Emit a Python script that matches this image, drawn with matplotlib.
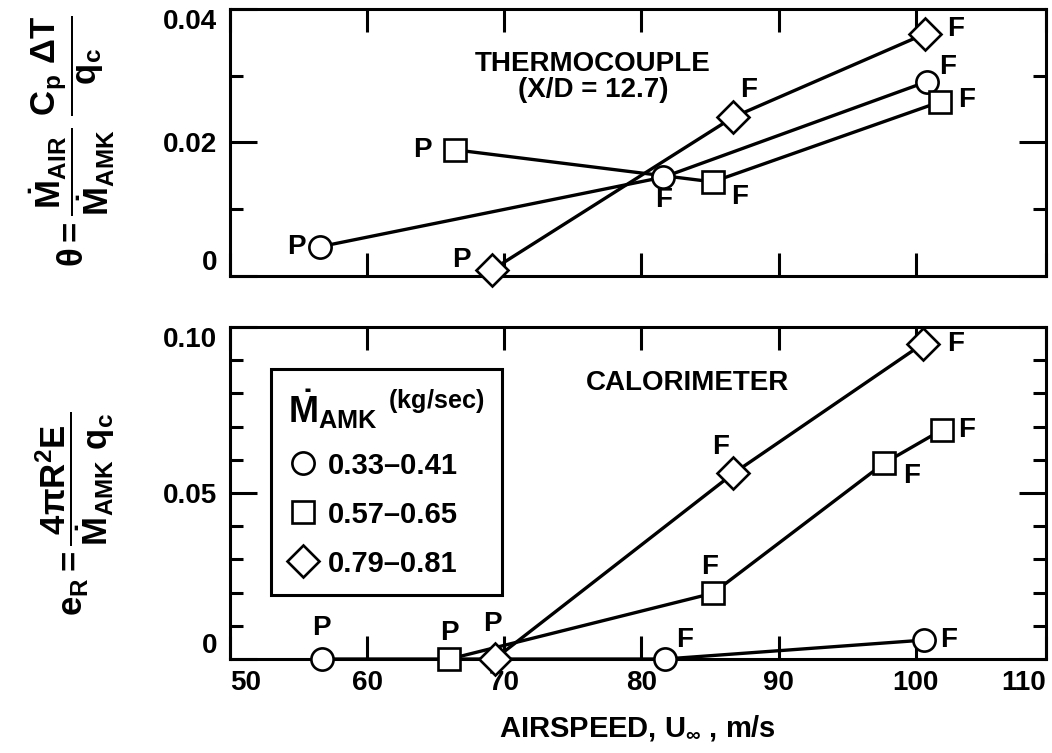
import matplotlib
matplotlib.use("Agg")
import matplotlib.pyplot as plt
from matplotlib.ticker import MultipleLocator

plt.rcParams['font.family'] = ['Liberation Sans', 'DejaVu Sans']
plt.rcParams['font.weight'] = 'bold'
plt.rcParams['mathtext.fontset'] = 'custom'
plt.rcParams['mathtext.rm'] = 'Liberation Sans:bold'
plt.rcParams['mathtext.it'] = 'Liberation Sans:bold'
plt.rcParams['mathtext.bf'] = 'Liberation Sans:bold'
plt.rcParams['mathtext.sf'] = 'Liberation Sans:bold'
plt.rcParams['mathtext.default'] = 'rm'
plt.rcParams['mathtext.fallback'] = 'stixsans'

# airspeed axis (frame ends just short of 110)
x_ticks = [50, 60, 70, 80, 90, 100, 109.5]
x_ticklabels = ['50', '60', '70', '80', '90', '100', '110']

# mass flow groups
group_labels = ['0.33\u20130.41', '0.57\u20130.65', '0.79\u20130.81']

# thermocouple (X/D = 12.7)
tc_circle_x = [56.6, 81.6, 100.8]
tc_circle_y = [0.0044, 0.0148, 0.0291]
tc_circle_tag = ['P', 'F', 'F']
tc_square_x = [66.4, 85.2, 101.8]
tc_square_y = [0.0189, 0.0141, 0.0261]
tc_square_tag = ['P', 'F', 'F']
tc_diamond_x = [69.1, 86.7, 100.7]
tc_diamond_y = [0.0009, 0.0238, 0.0363]
tc_diamond_tag = ['P', 'F', 'F']
tc_yticks = [0, 0.02, 0.04]
tc_yticklabels = ['0', '0.02', '0.04']

# calorimeter
cal_circle_x = [56.7, 81.7, 100.6]
cal_circle_y = [0.0, 0.0, 0.0057]
cal_circle_tag = ['P', 'F', 'F']
cal_square_x = [66.0, 85.2, 97.7, 101.9]
cal_square_y = [0.0, 0.0198, 0.059, 0.069]
cal_square_tag = ['P', 'F', 'F', 'F']
cal_diamond_x = [69.3, 86.7, 100.5]
cal_diamond_y = [0.0, 0.0559, 0.0949]
cal_diamond_tag = ['P', 'F', 'F']
cal_yticks = [0, 0.05, 0.10]
cal_yticklabels = ['0', '0.05', '0.10']

# where the P/F letters sit relative to each symbol (pixels, right/down)
tc_offsets = [
    [(-24, 0), (0, 23), (21, -15)],
    [(-32, 0), (27, 15), (26, -2)],
    [(-30, -10), (15, -27), (30, -5)],
]
cal_offsets = [
    [(0, -31), (20, -19), (25, 0)],
    [(0, -26), (-3, -26), (27, 13), (25, 0)],
    [(-2, -35), (-13, -26), (33, 0)],
]

markers = ['o', 's', 'D']
LW = 2.4
FS = 20


def draw_series(ax, xs, ys, tags, offs, marker, label):
    ax.plot(xs, ys, '-', color='k', lw=LW, clip_on=False, zorder=2)
    ax.plot(xs, ys, ls='none', marker=marker, ms=16, mfc='white', mec='k',
            mew=1.9, clip_on=False, zorder=3, label=label)
    for x, y, t, (dx, dy) in zip(xs, ys, tags, offs):
        ax.annotate(t, (x, y), xytext=(dx * 0.72, -dy * 0.72),
                    textcoords='offset points', ha='center', va='center',
                    fontsize=FS, fontweight='bold', zorder=4)


def style_axes(ax, yticks, yticklabels, ymajor_len, yminor):
    ax.set_xlim(50, 109.5)
    ax.set_ylim(yticks[0], yticks[-1])
    for s in ax.spines.values():
        s.set_linewidth(2.2)
    ax.set_xticks(x_ticks)
    ax.set_yticks(yticks)
    ax.set_yticklabels(yticklabels)
    ax.yaxis.set_minor_locator(MultipleLocator(yminor))
    ax.tick_params(axis='both', which='both', direction='in', top=True,
                   right=True, width=2.2, labelsize=FS)
    ax.tick_params(axis='x', which='major', length=16.5, pad=8)
    ax.tick_params(axis='y', which='major', length=ymajor_len, pad=9)
    ax.tick_params(axis='y', which='minor', length=9.5)
    labs = ax.get_yticklabels()
    labs[0].set_verticalalignment('bottom')
    labs[-1].set_verticalalignment('top')


fig = plt.figure(figsize=(10.52, 7.53), dpi=100)
ax1 = fig.add_axes([0.2186, 0.6335, 0.7757, 0.3546])
ax2 = fig.add_axes([0.2186, 0.1248, 0.7757, 0.4409])

tc = [(tc_circle_x, tc_circle_y, tc_circle_tag),
      (tc_square_x, tc_square_y, tc_square_tag),
      (tc_diamond_x, tc_diamond_y, tc_diamond_tag)]
cal = [(cal_circle_x, cal_circle_y, cal_circle_tag),
       (cal_square_x, cal_square_y, cal_square_tag),
       (cal_diamond_x, cal_diamond_y, cal_diamond_tag)]

for (xs, ys, tags), offs, m, lab in zip(tc, tc_offsets, markers, group_labels):
    draw_series(ax1, xs, ys, tags, offs, m, lab)
for (xs, ys, tags), offs, m, lab in zip(cal, cal_offsets, markers, group_labels):
    draw_series(ax2, xs, ys, tags, offs, m, lab)

style_axes(ax1, tc_yticks, tc_yticklabels, 19.5, 0.01)
style_axes(ax2, cal_yticks, cal_yticklabels, 19.5, 0.01)
ax1.tick_params(axis='x', labelbottom=False)
ax2.set_xticklabels(x_ticklabels)
xl = ax2.get_xticklabels()
xl[0].set_horizontalalignment('left')
xl[-1].set_horizontalalignment('right')

ax1.text(0.445, 0.745, 'THERMOCOUPLE\n(X/D = 12.7)', transform=ax1.transAxes,
         ha='center', va='center', fontsize=FS, fontweight='bold', linespacing=1.0)
ax2.text(0.561, 0.831, 'CALORIMETER', transform=ax2.transAxes,
         ha='center', va='center', fontsize=FS, fontweight='bold')

ax2.set_xlabel(r'AIRSPEED, U$_\infty$ , m/s', fontsize=21, fontweight='bold',
               labelpad=12)

fig.text(0.069, 0.813,
         r'$\theta = \dfrac{\dot{M}_{AIR}}{\dot{M}_{AMK}}\ \dfrac{C_p\ \Delta T}{q_c}$',
         rotation=90, ha='center', va='center', fontsize=25)
fig.text(0.072, 0.318,
         r'$e_R = \dfrac{4\pi R^2 E}{\dot{M}_{AMK}\ q_c}$',
         rotation=90, ha='center', va='center', fontsize=25)

leg = ax2.legend(title=r'$\dot{M}_{AMK}\ {}^{(kg/sec)}$', loc='upper left',
                 bbox_to_anchor=(0.05, 0.873), borderaxespad=0, fancybox=False,
                 edgecolor='k', framealpha=1, handlelength=1.0,
                 handletextpad=0.35, labelspacing=0.72, fontsize=21,
                 title_fontsize=26, alignment='left', borderpad=0.6)
leg.get_frame().set_linewidth(2.2)

fig.savefig('out.png', dpi=100)
